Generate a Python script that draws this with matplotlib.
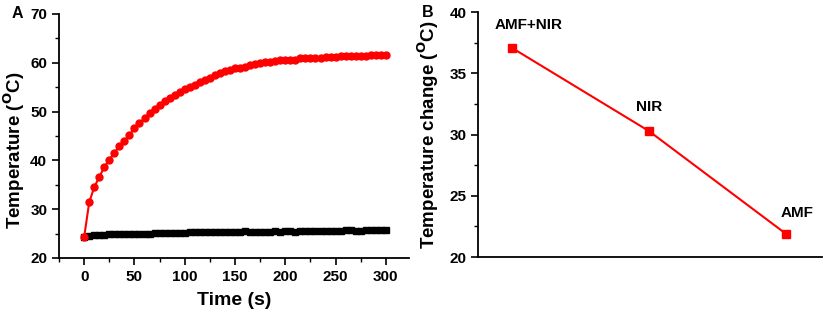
import matplotlib
matplotlib.use('Agg')
import matplotlib.pyplot as plt
from matplotlib.ticker import MultipleLocator

plt.rcParams['font.family'] = ['Liberation Sans', 'DejaVu Sans']
plt.rcParams['font.weight'] = 'bold'
plt.rcParams['mathtext.default'] = 'bf'

# Панель A: нагрев во времени (шаг 5 с)
time_s = list(range(0, 301, 5))
temp_red = [24.3, 31.4, 34.5, 36.6, 38.6, 40.1, 41.5, 42.9, 44.0, 45.2,
            46.6, 47.6, 48.6, 49.7, 50.5, 51.3, 52.1, 52.7, 53.4, 54.0,
            54.6, 55.1, 55.5, 56.0, 56.5, 56.8, 57.5, 57.9, 58.2, 58.5,
            58.9, 59.0, 59.2, 59.5, 59.8, 59.9, 60.1, 60.2, 60.4, 60.5,
            60.6, 60.6, 60.6, 60.9, 60.9, 61.0, 60.9, 60.9, 61.1, 61.2,
            61.2, 61.3, 61.3, 61.3, 61.4, 61.4, 61.4, 61.5, 61.5, 61.5, 61.6]
temp_black = [24.4, 24.6, 24.7, 24.7, 24.7, 24.9, 25.0, 25.0, 25.0, 25.0,
              25.0, 25.0, 25.0, 24.9, 25.1, 25.1, 25.1, 25.1, 25.1, 25.1,
              25.2, 25.3, 25.4, 25.3, 25.3, 25.3, 25.3, 25.3, 25.3, 25.4,
              25.4, 25.3, 25.5, 25.4, 25.4, 25.4, 25.3, 25.4, 25.5, 25.4,
              25.6, 25.6, 25.4, 25.5, 25.6, 25.5, 25.5, 25.5, 25.5, 25.5,
              25.5, 25.5, 25.8, 25.8, 25.6, 25.6, 25.7, 25.7, 25.7, 25.7, 25.7]

# Панель B: изменение температуры
groups = ['AMF+NIR', 'NIR', 'AMF']
delta_t = [37.1, 30.3, 21.9]

fig = plt.figure(figsize=(8.29, 3.15), dpi=100)
ax1 = fig.add_axes([0.0712, 0.181, 0.4222, 0.775])
ax2 = fig.add_axes([0.577, 0.184, 0.414, 0.777])

for ax in (ax1, ax2):
    ax.spines['top'].set_visible(False)
    ax.spines['right'].set_visible(False)
    ax.spines['left'].set_linewidth(1.3)
    ax.spines['bottom'].set_linewidth(1.3)
    ax.tick_params(which='major', direction='out', length=5, width=1.2,
                   labelsize=11)
    ax.tick_params(which='minor', direction='out', length=3, width=1.0)

ax1.plot(time_s, temp_black, color='black', marker='s', markersize=4,
         linewidth=1.2)
ax1.plot(time_s, temp_red, color='#ff0000', marker='o', markersize=5,
         linewidth=1.5)
ax1.set_xlim(-25, 323)
ax1.set_ylim(20, 70)
ax1.xaxis.set_major_locator(MultipleLocator(50))
ax1.xaxis.set_minor_locator(MultipleLocator(25))
ax1.yaxis.set_major_locator(MultipleLocator(10))
ax1.yaxis.set_minor_locator(MultipleLocator(5))
ax1.set_xlabel('Time (s)', fontsize=14, fontweight='bold', labelpad=6)
ax1.set_ylabel(r'Temperature ($^{\mathbf{O}}$C)', fontsize=13.5,
               fontweight='bold')
ax1.yaxis.set_label_coords(-0.092, 0.44)
ax1.text(-0.135, 1.0, 'A', transform=ax1.transAxes, fontsize=11.5,
         fontweight='bold', va='center', ha='left')

pos = [1, 2, 3]
# сдвиг подписей относительно точек (пиксели)
label_dx = [12, 0, 8]
label_dy = [11, 12, 10]
ax2.plot(pos, delta_t, color='#ff0000', marker='s', markersize=6,
         linewidth=1.5)
for p, v, g, dx, dy in zip(pos, delta_t, groups, label_dx, label_dy):
    ax2.annotate(g, (p, v), xytext=(dx, dy), textcoords='offset points',
                 ha='center', va='bottom', fontsize=11, fontweight='bold')
ax2.set_xlim(0.756, 3.26)
ax2.set_ylim(20, 40)
ax2.set_xticks([])
ax2.yaxis.set_major_locator(MultipleLocator(5))
ax2.yaxis.set_minor_locator(MultipleLocator(2.5))
ax2.set_ylabel(r'Temperature change ($^{\mathbf{O}}$C)', fontsize=13.5,
               fontweight='bold')
ax2.yaxis.set_label_coords(-0.108, 0.5)
ax2.text(-0.165, 1.0, 'B', transform=ax2.transAxes, fontsize=11.5,
         fontweight='bold', va='center', ha='left')

fig.savefig('out.png', dpi=100)
